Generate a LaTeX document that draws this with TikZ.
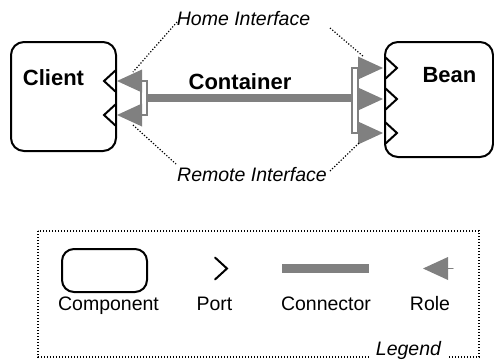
\documentclass[tikz,border=0pt]{standalone}
\usepackage{fontspec}
\setmainfont{Liberation Sans}
\usetikzlibrary{arrows.meta}
\definecolor{rolegray}{RGB}{128,128,128}

\begin{document}
\begin{tikzpicture}[x=0.5pt, y=-0.5pt, line cap=round,
    comp/.style={draw, line width=1pt, rounded corners=6.5pt, inner sep=0pt},
    port/.style={line width=1pt, line join=miter},
    role/.style={fill=rolegray},
    bracket/.style={draw=rolegray, line width=0.6pt, inner sep=0pt},
    link/.style={draw=rolegray, line width=4pt, line cap=butt},
    dots/.style={line width=0.6pt, line cap=butt, dash pattern=on 0.6pt off 0.9pt},
    boldlabel/.style={font=\fontsize{11}{13}\selectfont\bfseries, inner sep=0pt},
    iface/.style={font=\fontsize{9.75}{12}\selectfont\itshape, inner sep=0pt},
    lbl/.style={font=\fontsize{9.75}{12}\selectfont, anchor=base, inner sep=0pt}]
    % 1px = 0.5pt, y grows downwards
    \def\rl{25}
    \def\rh{11.5}
    \def\pd{12}
    \def\ph{11}
    \useasboundingbox (0,0) rectangle (494,360);

    \coordinate (h1) at (177,22);
    \coordinate (h2) at (133,72);
    \coordinate (h3) at (330,28);
    \coordinate (h4) at (364,57);
    \coordinate (r1) at (133,125);
    \coordinate (r2) at (176,164);
    \coordinate (r3) at (330,171);
    \coordinate (r4) at (359,143);
    \coordinate (lc1) at (282,268.5);
    \coordinate (lc2) at (369,268.5);

    % components
    \node[comp, minimum width=52.5pt, minimum height=54.5pt] (client) at (63.5,96.5) {};
    \node[comp, minimum width=54pt, minimum height=57.5pt] (bean) at (439,99.5) {};
    \node[boldlabel] (clientname) at (53.5,78) {Client};
    \node[boldlabel] (beanname) at (449.5,75) {Bean};

    % ports
    \draw[port] (116,{81-\ph}) -- ++(-\pd,\ph) -- ++(\pd,\ph);
    \draw[port] (116,{115-\ph}) -- ++(-\pd,\ph) -- ++(\pd,\ph);
    \foreach \y in {68,99,133}
        \draw[port] (385,{\y-\ph}) -- ++(\pd,\ph) -- ++(-\pd,\ph);

    % connector with its roles
    \node[bracket, minimum width=3pt, minimum height=17pt] (lbr) at (144,98) {};
    \node[bracket, minimum width=3pt, minimum height=32.5pt] (rbr) at (355,100.5) {};
    \draw[link] (lbr.east) -- (lbr.east -| rbr.west);
    \fill[role] (117,81) -- ++(\rl,-\rh) -- ++(0,2*\rh) -- cycle;
    \fill[role] (117,115) -- ++(\rl,-\rh) -- ++(0,2*\rh) -- cycle;
    \foreach \y in {68,99,133}
        \fill[role] (383,\y) -- ++(-\rl,-\rh) -- ++(0,2*\rh) -- cycle;
    \node[boldlabel] (contname) at (240,82) {Container};

    \node[iface] (home) at (243.5,19) {Home Interface};
    \node[iface] (remote) at (252,175) {Remote Interface};
    \draw[dots] (h1) -- (h2);
    \draw[dots] (h3) -- (h4);
    \draw[dots] (r1) -- (r2);
    \draw[dots] (r3) -- (r4);

    % legend
    \draw[dots] (38,231) rectangle (479,357);
    \node[lbl, fill=white, inner xsep=3pt, inner ysep=1pt, font=\fontsize{9.75}{12}\selectfont\itshape] (legendname) at (408.5,355) {Legend};
    \node[comp, rounded corners=6pt, minimum width=42.5pt, minimum height=21.5pt] (legcomp) at (104.5,270.5) {};
    \draw[port] (215,{268.5-\ph}) -- ++(\pd,\ph) -- ++(-\pd,\ph);
    \draw[link, line width=4.5pt] (lc1) -- (lc2);
    \fill[role] (423,268.5) -- ++(\rl,-\rh) -- ++(0,2*\rh) -- cycle;
    \draw[rolegray, line width=0.6pt] (448,268.5) -- ++(5,0);
    \node[lbl] (complbl) at (108.5,310) {Component};
    \node[lbl] (portlbl) at (214.5,310) {Port};
    \node[lbl] (connlbl) at (326,310) {Connector};
    \node[lbl] (rolelbl) at (430,310) {Role};
\end{tikzpicture}
\end{document}
